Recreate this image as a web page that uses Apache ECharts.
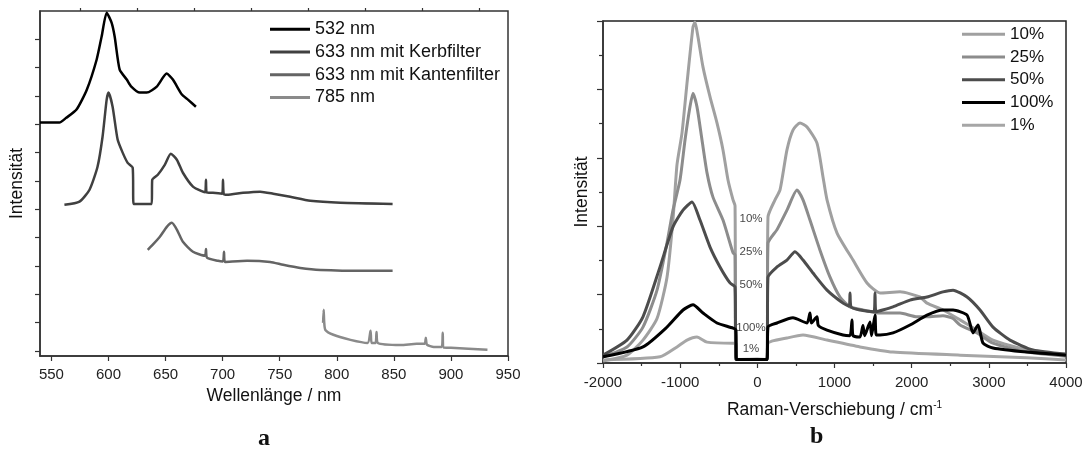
<!DOCTYPE html>
<html>
<head>
<meta charset="utf-8">
<script src="https://cdn.jsdelivr.net/npm/echarts@6/dist/echarts.min.js"></script>
<style>
  html, body { margin: 0; padding: 0; background: #fff; }
  #box { width: 1087px; height: 454px; }
</style>
</head>
<body>
<div id="box"></div>
<script>
// --- panel a: emission spectra, [Wellenlaenge nm, Intensitaet (offset)] ---
var legendA = ['532 nm', '633 nm mit Kerbfilter', '633 nm mit Kantenfilter', '785 nm'];
var spec532 = [
    [540, 8.06], [557, 8.06], [563, 8.23], [572, 8.52], [581, 9.22], [589.6, 10.28], [594, 11.1],
    [598.4, 11.94], [602.7, 11.59], [605.4, 11.1], [609.8, 9.93], [616, 9.58], [620, 9.33],
    [627.4, 9.12], [633.5, 9.12], [642.3, 9.33], [651, 9.79], [656.4, 9.58], [664.3, 9.05],
    [669.6, 8.87], [676.6, 8.62]
];
var spec633Kerb = [
    [561.4, 5.16], [574.6, 5.27], [583.4, 5.69], [590.4, 6.5], [594.8, 7.56], [598.4, 8.87],
    [600.1, 9.12], [603.6, 8.62], [608, 7.46], [612.4, 7.0], [616.8, 6.64], [621.2, 6.47],
    [622, 5.19], [637.9, 5.19], [638.3, 6.04], [643.2, 6.22], [649.3, 6.57], [654.6, 6.96],
    [659.9, 6.75], [665.2, 6.29], [674, 5.8], [682.7, 5.62], [684.8, 5.6], [685.4, 6.04],
    [686, 5.6], [691.5, 5.58], [699.6, 5.55], [700.3, 6.04], [701, 5.53], [703.8, 5.51],
    [717.9, 5.58], [732.9, 5.62], [744.3, 5.55], [759.2, 5.44], [776.8, 5.3], [803.2, 5.23],
    [848.9, 5.19]
];
var spec633Kante = [
    [634.4, 3.57], [638.8, 3.75], [645, 4.03], [651.1, 4.38], [655.5, 4.52], [659.9, 4.28],
    [665.2, 3.85], [674, 3.5], [684.5, 3.36], [685.4, 3.6], [686.3, 3.29], [696, 3.18],
    [700.3, 3.16], [701.2, 3.5], [702, 3.14], [721.4, 3.18], [741.6, 3.14], [753, 3.04],
    [768, 2.93], [785.6, 2.86], [826.9, 2.83], [848.9, 2.83]
];
var spec785 = [
    [788, 0.99], [788.5, 1.45], [789, 1.0], [790, 0.74], [797, 0.57], [812, 0.39], [827, 0.28],
    [829.6, 0.71], [830.5, 0.28], [834, 0.28], [834.8, 0.67], [836, 0.28], [856, 0.21],
    [870, 0.25], [877, 0.25], [878, 0.46], [879, 0.22], [885, 0.14], [892, 0.14], [892.8, 0.64],
    [893.6, 0.12], [900, 0.11], [932, 0.04]
];
var ticksA = [550, 600, 650, 700, 750, 800, 850, 900, 950];
var minorTicksA = [575, 625, 675, 725, 775, 825, 875, 925];
var yTicksA = [0, 1, 2, 3, 4, 5, 6, 7, 8, 9, 10, 11];

// --- panel b: Raman-Verschiebung cm-1 vs. Intensitaet ---
var legendB = ['10%', '25%', '50%', '100%', '1%'];
var raman10 = [
    [-2000, 0.06], [-1689, 0.23], [-1482, 0.67], [-1300, 1.3], [-1171, 2.5], [-1093, 4.2],
    [-1041, 5.8], [-976, 6.73], [-911, 8.19], [-834, 9.82], [-808, 9.97], [-769, 9.53],
    [-704, 8.65], [-613, 7.78], [-523, 7.02], [-445, 6.23], [-380, 5.35], [-315, 4.77],
    [-289, 4.6], [-277, 0.1], [0, 0.12], [125, 0.1], [138, 4.27], [229, 4.77], [294, 5.06],
    [384, 6.23], [462, 6.81], [553, 7.02], [644, 6.9], [773, 6.43], [851, 5.44], [903, 4.77],
    [1033, 3.8], [1240, 3.01], [1421, 2.34], [1590, 2.05], [1849, 2.08], [2108, 1.93],
    [2199, 1.75], [2406, 1.55], [2627, 1.26], [2847, 0.96], [3054, 0.67], [3494, 0.38],
    [4000, 0.23]
];
var raman25 = [
    [-2000, 0.18], [-1689, 0.47], [-1482, 1.05], [-1300, 2.13], [-1171, 3.51], [-1093, 4.47],
    [-1002, 5.35], [-937, 6.52], [-873, 7.49], [-834, 7.89], [-782, 7.49], [-717, 6.52],
    [-652, 5.56], [-575, 4.85], [-445, 4.18], [-315, 3.22], [-289, 3.16], [-277, 0.1],
    [125, 0.1], [138, 3.5], [255, 3.9], [384, 4.47], [514, 5.06], [592, 4.77], [682, 4.18],
    [812, 3.3], [942, 2.51], [1071, 1.93], [1201, 1.64], [1369, 1.55], [1590, 1.46],
    [1849, 1.46], [2069, 1.35], [2199, 1.35], [2406, 1.38], [2536, 1.3], [2627, 1.11],
    [2847, 0.88], [3054, 0.58], [3494, 0.32], [4000, 0.2]
];
var raman50 = [
    [-2000, 0.23], [-1689, 0.67], [-1482, 1.35], [-1261, 2.81], [-1093, 3.98], [-963, 4.47],
    [-847, 4.71], [-743, 4.18], [-613, 3.39], [-484, 2.81], [-354, 2.34], [-289, 2.22],
    [-277, 0.1], [125, 0.1], [138, 2.51], [255, 2.81], [384, 3.01], [488, 3.25], [592, 3.01],
    [721, 2.63], [903, 2.13], [1110, 1.75], [1190, 1.66], [1201, 2.05], [1214, 1.64],
    [1330, 1.55], [1512, 1.5], [1525, 2.05], [1538, 1.5], [1758, 1.64], [1978, 1.84],
    [2199, 1.93], [2406, 2.08], [2536, 2.13], [2718, 1.93], [2886, 1.55], [3054, 1.05],
    [3274, 0.67], [3572, 0.38], [4000, 0.26]
];
var raman100 = [
    [-2000, 0.18], [-1482, 0.47], [-1171, 1.05], [-963, 1.55], [-834, 1.7], [-704, 1.46],
    [-523, 1.17], [-315, 1.02], [-277, 0.96], [-270, 0.1], [125, 0.1], [138, 1.05],
    [255, 1.17], [462, 1.32], [644, 1.17], [682, 1.46], [700, 1.17], [773, 1.35], [790, 1.1],
    [903, 0.96], [1110, 0.82], [1201, 0.8], [1227, 1.26], [1240, 0.8], [1330, 0.76],
    [1369, 1.1], [1390, 0.8], [1460, 1.2], [1480, 0.8], [1525, 1.4], [1540, 0.82],
    [1590, 0.82], [1758, 0.88], [1978, 1.11], [2199, 1.4], [2406, 1.55], [2536, 1.55],
    [2718, 1.4], [2795, 0.88], [2860, 1.11], [2925, 0.58], [3054, 0.44], [3494, 0.32],
    [4000, 0.23]
];
var raman1 = [
    [-2000, 0.09], [-1261, 0.18], [-1041, 0.47], [-911, 0.67], [-782, 0.76], [-652, 0.61],
    [-315, 0.58], [-277, 0.58], [-270, 0.1], [125, 0.1], [138, 0.58], [384, 0.73],
    [592, 0.82], [903, 0.67], [1330, 0.47], [1758, 0.32], [2627, 0.23], [3494, 0.15],
    [4000, 0.09]
];
// labels written into the notch, x = -82 cm-1
var gapLabelNames = ['10%', '25%', '50%', '100%', '1%'];
var gapLabelY = [4.21, 3.25, 2.28, 1.02, 0.41];

window.onload = function () {
    var myChart = echarts.init(document.getElementById('box'));
    var font = '"Liberation Sans", Arial, sans-serif';

    function lineSeries(name, data, color, width, xi, yi) {
        return {
            type: 'line',
            name: name,
            data: data,
            xAxisIndex: xi,
            yAxisIndex: yi,
            symbol: 'none',
            smooth: 0.2,
            silent: true,
            animation: false,
            lineStyle: { color: color, width: width, join: 'round' },
            itemStyle: { color: color }
        };
    }

    var gapData = gapLabelNames.map(function (n, i) {
        return { name: n, value: [-82, gapLabelY[i]] };
    });

    var axisLine = { onZero: false, lineStyle: { color: '#333', width: 1.5 } };
    var tickStyle = { color: '#333', width: 1.2 };

    var option = {
        animation: false,
        textStyle: { fontFamily: font },
        grid: [
            { left: 40, top: 11, width: 468, height: 345, show: true, borderColor: '#333', borderWidth: 1.5 },
            { left: 603, top: 21, width: 463, height: 342, show: true, borderColor: '#222', borderWidth: 1.5 }
        ],
        legend: [{
            data: legendA,
            orient: 'vertical',
            left: 265,
            top: 13,
            icon: 'rect',
            itemWidth: 40,
            itemHeight: 3,
            itemGap: 0,
            textStyle: { fontSize: 18, lineHeight: 22.7, color: '#111', fontFamily: font }
        }, {
            data: legendB,
            orient: 'vertical',
            left: 957,
            top: 18,
            icon: 'rect',
            itemWidth: 43,
            itemHeight: 3,
            itemGap: 0,
            textStyle: { fontSize: 17, lineHeight: 22.7, color: '#111', fontFamily: font }
        }],
        xAxis: [{
            gridIndex: 0,
            type: 'value',
            min: 540,
            max: 950,
            axisLine: axisLine,
            axisTick: { customValues: ticksA, length: 5, lineStyle: tickStyle },
            axisLabel: { customValues: ticksA, fontSize: 15, color: '#222', margin: 11 },
            splitLine: { show: false },
            name: 'Wellenlänge / nm',
            nameLocation: 'middle',
            nameGap: 30,
            nameTextStyle: { fontSize: 17.5, color: '#111' }
        }, {
            gridIndex: 0,
            type: 'value',
            min: 540,
            max: 950,
            axisLine: { show: false, onZero: false },
            axisTick: { customValues: minorTicksA, length: 3, lineStyle: tickStyle },
            axisLabel: { show: false },
            splitLine: { show: false }
        }, {
            gridIndex: 1,
            type: 'value',
            min: -2000,
            max: 4000,
            interval: 1000,
            axisLine: axisLine,
            axisTick: { length: 5, lineStyle: tickStyle },
            minorTick: { show: true, splitNumber: 2, length: 3, lineStyle: tickStyle },
            axisLabel: {
                fontSize: 15, color: '#222', margin: 12,
                formatter: function (v) { return String(v); }
            },
            splitLine: { show: false },
            name: 'Raman-Verschiebung / cm{sup|-1}',
            nameLocation: 'middle',
            nameGap: 37,
            nameTextStyle: {
                fontSize: 17.5, color: '#111',
                rich: { sup: { fontSize: 10, verticalAlign: 'top', padding: [0, 0, 10, 0], color: '#111' } }
            }
        }],
        yAxis: [{
            gridIndex: 0,
            type: 'value',
            min: -0.18,
            max: 12,
            axisLine: axisLine,
            axisTick: { customValues: yTicksA, length: 5, lineStyle: tickStyle },
            axisLabel: { show: false },
            splitLine: { show: false },
            name: 'Intensität',
            nameLocation: 'middle',
            nameGap: 14,
            nameTextStyle: { fontSize: 17.5, color: '#111' }
        }, {
            gridIndex: 1,
            type: 'value',
            min: 0,
            max: 10,
            interval: 2,
            axisLine: axisLine,
            axisTick: { length: 6, lineStyle: tickStyle },
            minorTick: { show: true, splitNumber: 2, length: 4, lineStyle: tickStyle },
            axisLabel: { show: false },
            splitLine: { show: false },
            name: 'Intensität',
            nameLocation: 'middle',
            nameGap: 12,
            nameTextStyle: { fontSize: 17.5, color: '#111' }
        }],
        series: [
            lineSeries('532 nm', spec532, '#000000', 2.5, 0, 0),
            lineSeries('633 nm mit Kerbfilter', spec633Kerb, '#404040', 2.5, 0, 0),
            lineSeries('633 nm mit Kantenfilter', spec633Kante, '#646464', 2.5, 0, 0),
            lineSeries('785 nm', spec785, '#8a8a8a', 2.5, 0, 0),
            lineSeries('1%', raman1, '#a6a6a6', 3, 2, 1),
            lineSeries('10%', raman10, '#a0a0a0', 3, 2, 1),
            lineSeries('25%', raman25, '#8c8c8c', 3, 2, 1),
            lineSeries('50%', raman50, '#4c4c4c', 3, 2, 1),
            lineSeries('100%', raman100, '#000000', 3, 2, 1),
            {
                type: 'scatter',
                xAxisIndex: 2,
                yAxisIndex: 1,
                symbolSize: 1,
                silent: true,
                itemStyle: { color: 'transparent' },
                label: { show: true, position: 'inside', formatter: '{b}', fontSize: 11.5, color: '#111' },
                data: gapData
            }
        ],
        graphic: [{
            type: 'text',
            left: 258,
            top: 427,
            style: { text: 'a', font: 'bold 24px "Liberation Serif", "DejaVu Serif", serif', fill: '#111' }
        }, {
            type: 'text',
            left: 810,
            top: 425,
            style: { text: 'b', font: 'bold 24px "Liberation Serif", "DejaVu Serif", serif', fill: '#111' }
        }]
    };
    myChart.setOption(option);
    window.addEventListener('resize', function () {
        myChart.resize();
    });
};
</script>
</body>
</html>
